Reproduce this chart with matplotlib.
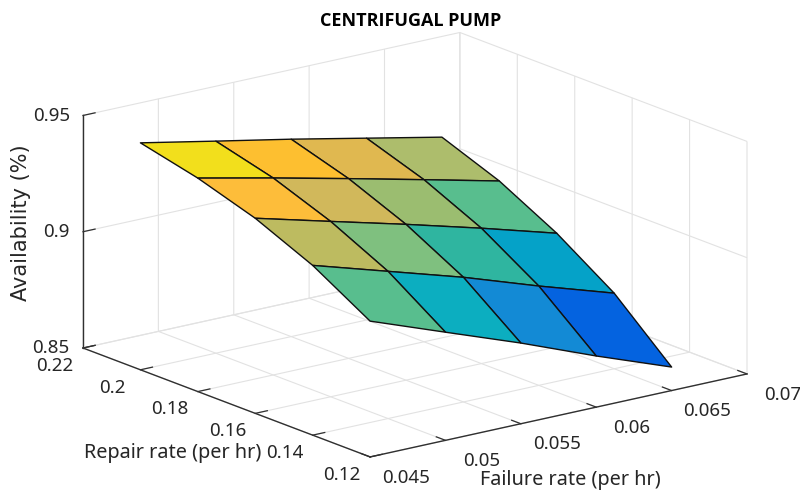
import numpy as np
import matplotlib
matplotlib.use("Agg")
import matplotlib.pyplot as plt
from matplotlib.colors import LinearSegmentedColormap, Normalize
from mpl_toolkits.mplot3d import proj3d

# ---- data ----
failure_rate = [0.045, 0.05, 0.055, 0.06, 0.065]
repair_rate = [0.20, 0.18, 0.16, 0.14, 0.12]
availability = [
    [0.9476, 0.9412, 0.9349, 0.9282, 0.9215],
    [0.9418, 0.9347, 0.9273, 0.9197, 0.9120],
    [0.9339, 0.9254, 0.9170, 0.9082, 0.8989],
    [0.9230, 0.9133, 0.9036, 0.8927, 0.8825],
    [0.9084, 0.8965, 0.8847, 0.8720, 0.8601],
]
x_ticks = [0.045, 0.05, 0.055, 0.06, 0.065, 0.07]
y_ticks = [0.12, 0.14, 0.16, 0.18, 0.2, 0.22]
z_ticks = [0.85, 0.9, 0.95]
x_tick_labels = ["0.045", "0.05", "0.055", "0.06", "0.065", "0.07"]
y_tick_labels = ["0.12", "0.14", "0.16", "0.18", "0.2", "0.22"]
z_tick_labels = ["0.85", "0.9", "0.95"]
title = "CENTRIFUGAL PUMP"
x_label = "Failure rate (per hr)"
y_label = "Repair rate (per hr)"
z_label = "Availability (%)"

# colour scale: level -> colour, as seen on the faces
color_levels = [0.8927, 0.9036, 0.9082, 0.9133, 0.9170, 0.9197, 0.9230, 0.9254,
                0.9273, 0.9282, 0.9339, 0.9347, 0.9349, 0.9412, 0.9418, 0.9476]
color_stops = ["#0463E0", "#138AD5", "#05A2C8", "#0CAEC0", "#2FB5A0", "#58BE8E",
               "#58BE8E", "#7FC07F", "#9BBD70", "#ADBD6C", "#BDBB60", "#CFB85C",
               "#E0B850", "#FDBF30", "#FDBD3A", "#F2DF1C"]

W, H = 800, 498
TEXT = "#262626"
plt.rcParams["font.family"] = ["Noto Sans", "DejaVu Sans"]
plt.rcParams["grid.color"] = "#e2e2e2"
plt.rcParams["grid.linewidth"] = 0.8

fig = plt.figure(figsize=(W / 100, H / 100), dpi=100)
S0 = 498.0
ax = fig.add_axes([(W - S0) / 2 / W, 0, S0 / W, S0 / H], projection="3d", proj_type="ortho")
ax.view_init(elev=16.8, azim=-127.3)
ax.set_box_aspect((474, 474, 243))
xmin, xmax = x_ticks[0], x_ticks[-1]
ymin, ymax = y_ticks[0], y_ticks[-1]
zmin, zmax = z_ticks[0], z_ticks[-1]
ax.set_xlim(xmin, xmax, view_margin=0)
ax.set_ylim(ymin, ymax, view_margin=0)
ax.set_zlim(zmin, zmax, view_margin=0)
ax.patch.set_alpha(0)

# surface: each face takes the colour of its first vertex
X, Y = np.meshgrid(failure_rate, repair_rate)
Z = np.array(availability)
norm = Normalize(min(color_levels), max(color_levels))
cmap = LinearSegmentedColormap.from_list(
    "faces", [(float(norm(v)), c) for v, c in zip(color_levels, color_stops)], N=1024)
ax.plot_surface(X, Y, Z, rstride=1, cstride=1, facecolors=cmap(norm(Z)), shade=False,
                edgecolor="#101010", linewidth=1.0, antialiased=True)

# axes, ticks, grid
ax.set_xticks(x_ticks)
ax.set_yticks(y_ticks)
ax.set_zticks(z_ticks)
ax.set_xticklabels([])
ax.set_yticklabels([])
ax.set_zticklabels([])
for axis in (ax.xaxis, ax.yaxis, ax.zaxis):
    axis.set_pane_color((1, 1, 1, 0))
    axis.pane.set_edgecolor("#d8d8d8")
    axis.pane.set_linewidth(0.8)
    axis.line.set_color("#303030")
    axis.line.set_linewidth(1.0)
    axis._axinfo["tick"]["inward_factor"] = 0.0
    axis._axinfo["tick"]["outward_factor"] = 0.4
    axis._axinfo["tick"]["linewidth"] = {True: 0.9, False: 0.9}
    axis._axinfo["tick"]["color"] = "#303030"
ax.tick_params(colors="#303030")


def pixel(x, y, z):
    px, py, _ = proj3d.proj_transform(x, y, z, ax.get_proj())
    return ax.transData.transform((px, py))


# fit the box so that its corners land where the reference has them
fig.canvas.draw()
a = pixel(xmin, ymax, zmin)
c = pixel(xmax, ymin, zmin)
scale = (747 - 83) / (c[0] - a[0])
S = S0 * scale
centre = np.array([W / 2, S0 / 2])
target_a = np.array([83, H - 348])
new_centre = target_a - (a - centre) * scale
ax.set_position([(new_centre[0] - S / 2) / W, (new_centre[1] - S / 2) / H, S / W, S / H])
fig.canvas.draw()


def label(x, y, z, s, **kw):
    px, py, _ = proj3d.proj_transform(x, y, z, ax.get_proj())
    ax.text2D(px, py, s, transform=ax.transData, color=TEXT, **kw)


# tick labels
xr, yr, zr = xmax - xmin, ymax - ymin, zmax - zmin
for v, s in zip(x_ticks, x_tick_labels):
    label(v, ymin - 0.125 * yr, zmin - 0.03 * zr, s, ha="center", va="center", fontsize=13.5)
for v, s in zip(y_ticks, y_tick_labels):
    label(xmin - 0.074 * xr, v, zmin - 0.05 * zr, s, ha="center", va="center", fontsize=13.5)
for v, s in zip(z_ticks, z_tick_labels):
    label(xmin - 0.035 * xr, ymax, v + 0.011 * zr, s, ha="right", va="center", fontsize=13.5)

# axis titles
label(xmin + 0.5 * xr, ymax - 1.04 * yr, zmin - 0.26 * zr, x_label, ha="center", va="center",
      fontsize=14.3)
label(xmin - 0.144 * xr, ymax - 0.5 * yr, zmin - 0.165 * zr, y_label, ha="center", va="center",
      fontsize=14.3)
label(xmin - 0.165 * xr, ymax, zmin + 0.598 * zr, z_label, ha="center", va="center",
      rotation=90, fontsize=15, family="DejaVu Sans")

fig.text(411 / W, 1 - 20.5 / H, title, ha="center", va="center", fontsize=13,
         family="Open Sans", fontweight="bold", color="black")

fig.savefig("out.png", dpi=100)
